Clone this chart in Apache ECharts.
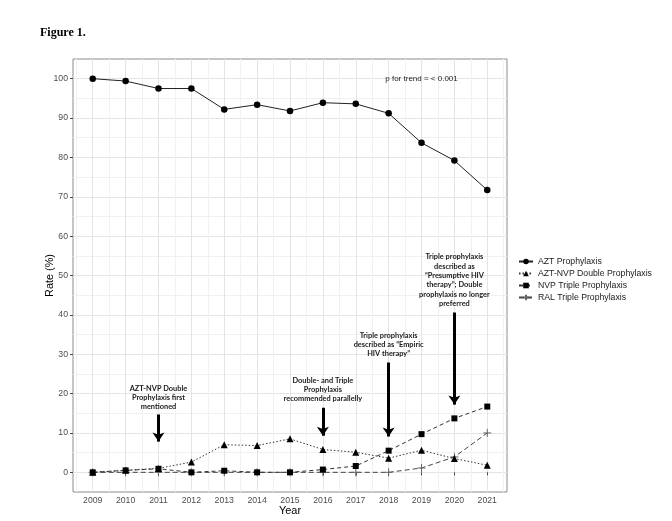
<!DOCTYPE html>
<html><head><meta charset="utf-8">
<script src="https://cdn.jsdelivr.net/npm/echarts@6/dist/echarts.min.js"></script>
<style>html,body{margin:0;padding:0;background:#fff}#c{width:672px;height:521px}</style>
</head><body><div id="c"></div>
<script>
// ---- data ----
const years = [2009, 2010, 2011, 2012, 2013, 2014, 2015, 2016, 2017, 2018, 2019, 2020, 2021];
const halfYears = [2008.5, 2009.5, 2010.5, 2011.5, 2012.5, 2013.5, 2014.5, 2015.5, 2016.5, 2017.5, 2018.5, 2019.5, 2020.5, 2021.5];
const yTicks = [0, 10, 20, 30, 40, 50, 60, 70, 80, 90, 100];
const yMinorTicks = [5, 15, 25, 35, 45, 55, 65, 75, 85, 95];
const seriesNames = ['AZT Prophylaxis', 'AZT-NVP Double Prophylaxis', 'NVP Triple Prophylaxis', 'RAL Triple Prophylaxis'];
const aztValues = [100, 99.4, 97.5, 97.5, 92.2, 93.4, 91.8, 93.9, 93.6, 91.2, 83.7, 79.2, 71.7];
const doubleValues = [0, 0.5, 1.0, 2.6, 7.0, 6.8, 8.5, 5.8, 5.1, 3.6, 5.6, 3.5, 1.8];
const nvpTripleValues = [0, 0.5, 0.9, 0, 0.4, 0, 0, 0.7, 1.6, 5.5, 9.7, 13.7, 16.7];
const ralTripleValues = [0, 0, 0, 0, 0, 0, 0, 0, 0, 0, 1.1, 3.9, 10.0];
const annotationYears = [2011, 2016, 2018, 2020];
const annotationTexts = [
  'AZT-NVP Double\nProphylaxis first\nmentioned',
  'Double- and Triple\nProphylaxis\nrecommended parallelly',
  'Triple prophylaxis\ndescribed as \u201cEmpiric\nHIV therapy\u201d',
  'Triple prophylaxis\ndescribed as\n\u201cPresumptive HIV\ntherapy\u201d; Double\nprophylaxis no longer\npreferred'
];
const annotationTextY = [19.0, 21.0, 32.4, 48.8];
const arrowFrom = [14.7, 16.4, 27.9, 40.6];
const arrowTo = [7.8, 9.3, 9.1, 17.2];
const trendText = 'p for trend = < 0.001';
const trendPos = [2019, 100];

// ---- chart ----
const pairs = vals => years.map((y, i) => [y, vals[i]]);
const chart = echarts.init(document.getElementById('c'), null, {renderer: 'canvas'});
const tickLabel = {fontSize: 8.7, color: '#4d4d4d', fontFamily: 'Liberation Sans'};
const plusPath = 'path://M0,5 L10,5 M5,0 L5,10';

chart.setOption({
  animation: false,
  backgroundColor: '#fff',
  textStyle: {fontFamily: 'Liberation Sans'},
  title: {text: 'Figure 1.', left: 40, top: 27, padding: 0,
    textStyle: {fontFamily: 'Liberation Serif', fontWeight: 'bold', fontSize: 12, color: '#000'}},
  grid: {left: 73, right: 165, top: 59, bottom: 29, outerBoundsMode: 'none', containLabel: false,
    show: true, borderColor: '#8c8c8c', borderWidth: 1, backgroundColor: '#fff'},
  legend: {
    orient: 'vertical', left: 518, top: 257, padding: 0, itemWidth: 14, itemHeight: 7, itemGap: 3,
    textStyle: {fontSize: 8.7, color: '#1a1a1a', fontFamily: 'Liberation Sans'},
    data: seriesNames
  },
  xAxis: [
    {type: 'value', min: 2008.4, max: 2021.6,
     axisLine: {show: false},
     axisTick: {show: true, customValues: years, length: 3, lineStyle: {color: '#444'}},
     axisLabel: Object.assign({customValues: years, margin: 4, formatter: v => String(v)}, tickLabel),
     splitLine: {show: true, lineStyle: {color: '#e4e4e4', width: 1}},
     name: 'Year', nameLocation: 'middle', nameGap: 13, nameMoveOverlap: false,
     nameTextStyle: {fontSize: 10.9, color: '#000', fontFamily: 'Liberation Sans'}},
    {type: 'value', min: 2008.4, max: 2021.6, position: 'bottom',
     axisLine: {show: false},
     axisTick: {show: false, customValues: halfYears},
     axisLabel: {show: false, customValues: halfYears},
     splitLine: {show: true, lineStyle: {color: '#f1f1f1', width: 1}}}
  ],
  yAxis: [
    {type: 'value', min: -5, max: 105,
     axisLine: {show: false},
     axisTick: {show: true, customValues: yTicks, length: 3, lineStyle: {color: '#444'}},
     axisLabel: Object.assign({customValues: yTicks, margin: 5}, tickLabel),
     splitLine: {show: true, lineStyle: {color: '#e4e4e4', width: 1}},
     name: 'Rate (%)', nameLocation: 'middle', nameGap: 18, nameMoveOverlap: false,
     nameTextStyle: {fontSize: 10.9, color: '#000', fontFamily: 'Liberation Sans'}},
    {type: 'value', min: -5, max: 105, position: 'left',
     axisLine: {show: false},
     axisTick: {show: false, customValues: yMinorTicks},
     axisLabel: {show: false, customValues: yMinorTicks},
     splitLine: {show: true, lineStyle: {color: '#f1f1f1', width: 1}}}
  ],
  series: [
    {name: seriesNames[0], type: 'line', data: pairs(aztValues), symbol: 'circle', symbolSize: 6.5,
     lineStyle: {color: '#222', width: 1}, itemStyle: {color: '#000'}, z: 5,
     markLine: {
       silent: true, symbol: ['none', 'arrow'], symbolSize: [9, 9],
       lineStyle: {color: '#000', width: 3, type: 'solid'}, label: {show: false},
       emphasis: {disabled: true},
       data: annotationYears.map((x, i) => [{coord: [x, arrowFrom[i]]}, {coord: [x, arrowTo[i]]}])
     },
     markPoint: {
       silent: true,
       data: annotationYears.map((x, i) => ({
         coord: [x, annotationTextY[i]], symbol: 'circle', symbolSize: 0,
         label: {show: true, position: 'inside', formatter: annotationTexts[i], fontSize: 7.4,
           fontWeight: 'bold', fontFamily: 'Lato', lineHeight: 9.3, color: '#1a1a1a', align: 'center'}
       })).concat([{
         coord: trendPos, symbol: 'circle', symbolSize: 0,
         label: {show: true, position: 'inside', formatter: trendText, fontSize: 8,
           fontFamily: 'Liberation Sans, Arial, sans-serif', color: '#222'}
       }])
     }},
    {name: seriesNames[1], type: 'line', data: pairs(doubleValues), symbol: 'triangle', symbolSize: 7,
     lineStyle: {color: '#333', width: 1, type: [1.5, 2]}, itemStyle: {color: '#000'}, z: 4},
    {name: seriesNames[2], type: 'line', data: pairs(nvpTripleValues), symbol: 'rect', symbolSize: 6,
     lineStyle: {color: '#333', width: 1, type: [4, 3]}, itemStyle: {color: '#000'}, z: 4},
    {name: seriesNames[3], type: 'line', data: pairs(ralTripleValues), symbol: plusPath, symbolSize: 8,
     lineStyle: {color: '#444', width: 1, type: [5, 3]},
     itemStyle: {color: '#666', borderColor: '#666', borderWidth: 1}, z: 3}
  ]
});
</script>
</body></html>
